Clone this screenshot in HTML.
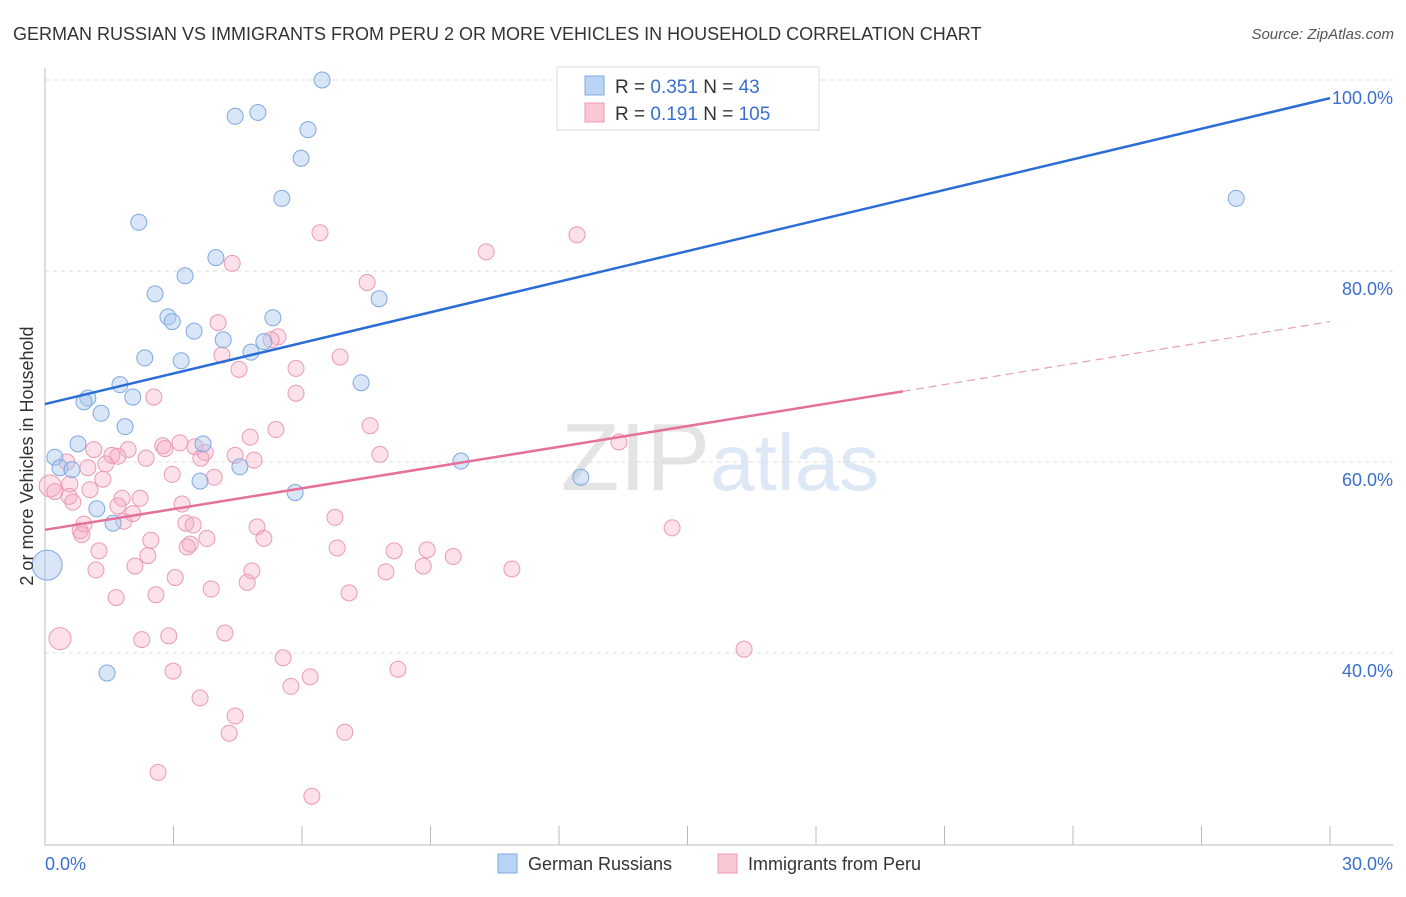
<!DOCTYPE html>
<html><head><meta charset="utf-8"><style>
body{margin:0;background:#fff;font-family:"Liberation Sans",sans-serif}
svg text{font-family:"Liberation Sans",sans-serif}
</style></head><body>
<svg id="chart" width="1406" height="892" xmlns="http://www.w3.org/2000/svg">
<text x="13" y="40" font-size="18" fill="#333">GERMAN RUSSIAN VS IMMIGRANTS FROM PERU 2 OR MORE VEHICLES IN HOUSEHOLD CORRELATION CHART</text>
<text x="1394" y="39" font-size="15" fill="#555" text-anchor="end" font-style="italic">Source: ZipAtlas.com</text>
<text x="720" y="490" font-size="96" fill="#e4e4e4" text-anchor="middle" font-family="Liberation Serif">ZIP<tspan fill="#dce8f5" font-family="Liberation Sans" font-size="80">atlas</tspan></text>
<g id="grid"></g>
<g id="axes"></g>
<g id="pts"></g>
<g id="trends"></g>
<text transform="translate(33,456) rotate(-90)" font-size="18" fill="#333" text-anchor="middle">2 or more Vehicles in Household</text>
<g>
<rect x="557" y="67" width="262" height="63" fill="#fff" stroke="#ddd"/>
<rect x="585" y="76" width="19" height="19" fill="#b9d4f5" stroke="#7fa8e0"/>
<rect x="585" y="103" width="19" height="19" fill="#f9c6d4" stroke="#eb9ab2"/>
<text x="615" y="93" font-size="19" fill="#333">R = <tspan fill="#3a6fd0">0.351</tspan>   N =  <tspan fill="#3a6fd0">  43</tspan></text>
<text x="615" y="120" font-size="19" fill="#333">R =  <tspan fill="#3a6fd0">0.191</tspan>   N = <tspan fill="#3a6fd0">105</tspan></text>
</g>
<g>
<rect x="498" y="854" width="19" height="19" fill="#b9d4f5" stroke="#7fa8e0"/>
<text x="528" y="870" font-size="18" fill="#333">German Russians</text>
<rect x="718" y="854" width="19" height="19" fill="#f9c6d4" stroke="#eb9ab2"/>
<text x="748" y="870" font-size="18" fill="#333">Immigrants from Peru</text>
</g>
</svg>
<script>
const yTicks=[40,60,80,100];
const xTickLabels=["0.0%","30.0%"];
const blueX=[6.47,4.97,4.44,6.14,5.98,5.53,2.19,3.99,3.27,2.57,7.80,2.87,2.97,5.32,3.48,4.16,5.11,4.81,2.33,3.18,7.38,1.75,1.00,0.91,2.05,1.31,1.87,0.77,3.69,0.23,9.71,4.55,0.35,0.63,3.62,5.84,1.21,1.59,12.51,27.81,1.45,0.05];
const blueY=[100,96.6,96.2,94.8,91.8,87.6,85.1,81.4,79.5,77.6,77.1,75.2,74.7,75.1,73.7,72.8,72.6,71.5,70.9,70.6,68.3,68.1,66.7,66.3,66.8,65.1,63.7,61.9,61.9,60.5,60.1,59.5,59.4,59.2,58.0,56.8,55.1,53.6,58.4,87.6,37.9,49.2];
const pinkX=[12.33,6.42,10.30,12.42,4.37,7.52,4.04,5.44,5.28,4.13,6.89,4.53,5.86,5.86,2.54,7.59,5.39,4.79,13.40,3.15,2.75,2.80,3.50,1.14,1.94,1.56,1.70,3.74,3.64,4.44,7.82,2.36,4.88,0.51,1.42,1.00,2.97,3.95,1.35,0.58,0.12,0.23,1.05,0.56,0.65,1.80,2.22,1.70,3.20,2.05,1.84,6.77,0.91,3.29,3.46,4.95,14.64,0.82,0.86,5.11,3.78,2.47,3.39,3.32,6.82,8.15,8.92,1.26,2.40,9.53,8.83,2.10,1.19,4.83,7.96,10.90,3.04,4.72,3.88,7.10,2.59,1.66,4.20,2.89,2.26,0.35,16.32,5.56,8.24,2.99,6.19,5.74,3.62,4.44,4.30,7.00,2.64,6.23];
const pinkY=[100,84.0,82.0,83.8,80.8,78.8,74.6,73.1,72.8,71.2,71.0,69.7,69.8,67.2,66.8,63.8,63.4,62.6,62.1,62.0,61.7,61.4,61.6,61.3,61.3,60.7,60.6,61.0,60.4,60.7,60.8,60.4,60.2,60.0,59.8,59.4,58.7,58.4,58.2,57.7,57.5,56.9,57.1,56.4,55.8,56.2,56.2,55.4,55.6,54.6,53.8,54.2,53.5,53.6,53.4,53.2,53.1,52.8,52.4,52.0,52.0,51.8,51.4,51.1,51.0,50.7,50.8,50.7,50.2,50.1,49.1,49.1,48.7,48.6,48.5,48.8,47.9,47.4,46.7,46.3,46.1,45.8,42.1,41.8,41.4,41.5,40.4,39.5,38.3,38.1,37.5,36.5,35.3,33.4,31.6,31.7,27.5,25.0];
const blueTrend=[[0,66.07],[30,98.1]];
const pinkTrend=[[0,52.9],[20.03,67.4],[30,74.7]];
const NS="http://www.w3.org/2000/svg";
const sx=v=>45+v*(1285/30);
const sy=v=>80+(100-v)*(191/20);
function mk(tag,attrs,parent){const e=document.createElementNS(NS,tag);for(const k in attrs)e.setAttribute(k,attrs[k]);parent.appendChild(e);return e;}
const grid=document.getElementById('grid'),axes=document.getElementById('axes'),pts=document.getElementById('pts'),tr=document.getElementById('trends');
yTicks.forEach(t=>{
 const l=mk('line',{x1:45,x2:1393,y1:sy(t),y2:sy(t),stroke:'#ddd','stroke-dasharray':'4,4'},grid);
 
 
 const tx=mk('text',{x:1393,y:sy(t)+24,'font-size':18,fill:'#3a6fd0','text-anchor':'end'},grid);
 tx.textContent=t.toFixed(1)+'%';
 
 
});
mk('line',{x1:45,x2:45,y1:68,y2:845,stroke:'#bbb'},axes);
mk('line',{x1:45,x2:1393,y1:845,y2:845,stroke:'#bbb'},axes);
for(let i=1;i<=10;i++){const t=mk('line',{x1:sx(i*3),x2:sx(i*3),y1:826,y2:845,stroke:'#bbb'},axes);}
const xl0=mk('text',{x:45,y:870,'font-size':18,fill:'#3a6fd0'},axes);xl0.textContent=xTickLabels[0];


const xl1=mk('text',{x:1393,y:870,'font-size':18,fill:'#3a6fd0','text-anchor':'end'},axes);xl1.textContent=xTickLabels[1];


pinkX.forEach((x,i)=>{const big=(x<0.4&&(pinkY[i]>57||pinkY[i]<42));const c=mk('circle',{cx:sx(x),cy:sy(pinkY[i]),r:big?11:8,fill:'rgba(245,170,195,0.35)',stroke:'#eb9ab2','stroke-width':1},pts);
 
 });
blueX.forEach((x,i)=>{const big=x<0.1;const c=mk('circle',{cx:sx(x),cy:sy(blueY[i]),r:big?15:8,fill:'rgba(170,200,240,0.45)',stroke:'#7fa8e0','stroke-width':1},pts);
 
 });
const bl=mk('line',{x1:sx(blueTrend[0][0]),y1:sy(blueTrend[0][1]),x2:sx(blueTrend[1][0]),y2:sy(blueTrend[1][1]),stroke:'#2a6dd6','stroke-width':2.5},tr);


const pl=mk('line',{x1:sx(pinkTrend[0][0]),y1:sy(pinkTrend[0][1]),x2:sx(pinkTrend[1][0]),y2:sy(pinkTrend[1][1]),stroke:'#e5709a','stroke-width':2.5},tr);


const pd=mk('line',{x1:sx(pinkTrend[1][0]),y1:sy(pinkTrend[1][1]),x2:sx(pinkTrend[2][0]),y2:sy(pinkTrend[2][1]),stroke:'#e5a0b8','stroke-width':1.2,'stroke-dasharray':'8,5'},tr);


</script>
</body></html>
